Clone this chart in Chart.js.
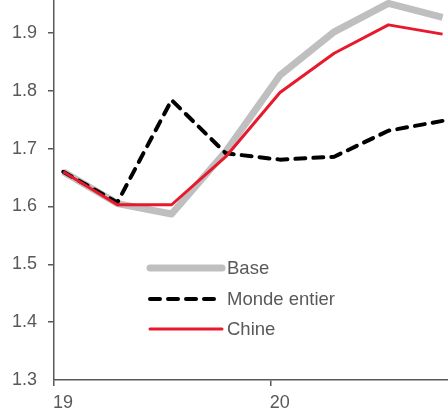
<!DOCTYPE html>
<html>
<head>
<meta charset="utf-8">
<script src="https://cdn.jsdelivr.net/npm/chart.js@4/dist/chart.umd.min.js"></script>
<style>
    body { margin: 0; background: #fff; }
</style>
</head>
<body>
<canvas id="chart" width="448" height="409"></canvas>
<script>
// quarters 2019 T1 .. 2020 T4, placed inside each year (0 = start of 19)
const quarterPos = [0.17, 1.17, 2.17, 3.17, 4.17, 5.17, 6.17, 7.17];
const yearTicks = [0, 4];
const yearLabels = ["19", "20"];

const base = [1.66, 1.605, 1.587, 1.695, 1.827, 1.902, 1.951, 1.927];
const monde = [1.66, 1.607, 1.784, 1.692, 1.681, 1.686, 1.731, 1.748];
const chine = [1.66, 1.603, 1.603, 1.686, 1.797, 1.865, 1.914, 1.898];

const axisColor = "#595959";
const family = "'Liberation Sans', Arial, sans-serif";
const font = { family: family, size: 18 };

const toPoints = (vals) => vals.map((v, i) => ({ x: quarterPos[i], y: v }));

// simple legend drawn inside the plot area
const innerLegend = {
    id: "innerLegend",
    afterDraw(chart) {
        const ctx = chart.ctx;
        const x0 = 150, x1 = 222, tx = 227;
        const rows = [268, 299, 329];
        ctx.save();
        chart.data.datasets.forEach((ds, i) => {
            const y = rows[i];
            ctx.beginPath();
            ctx.strokeStyle = ds.borderColor;
            ctx.lineWidth = ds.borderWidth;
            ctx.lineCap = "round";
            ctx.setLineDash(ds.borderDash || []);
            ctx.moveTo(x0, y);
            ctx.lineTo(x1, y);
            ctx.stroke();
            ctx.setLineDash([]);
            ctx.fillStyle = axisColor;
            ctx.font = "18.5px " + family;
            ctx.textBaseline = "middle";
            ctx.fillText(ds.label, tx, y + 1);
        });
        ctx.restore();
    }
};

new Chart(document.getElementById("chart"), {
    type: "line",
    data: {
        datasets: [
            {
                label: "Base",
                data: toPoints(base),
                borderColor: "#bfbfbf",
                borderWidth: 7,
                order: 3,
            },
            {
                label: "Monde entier",
                data: toPoints(monde),
                borderColor: "#000000",
                borderWidth: 4,
                borderDash: [10, 8],
                borderCapStyle: "round",
                order: 2,
            },
            {
                label: "Chine",
                data: toPoints(chine),
                borderColor: "#e8192c",
                borderWidth: 3,
                order: 1,
            },
        ],
    },
    options: {
        responsive: false,
        animation: false,
        layout: { padding: 0 },
        elements: {
            point: { radius: 0 },
            line: { tension: 0, borderJoinStyle: "round" },
        },
        plugins: {
            legend: { display: false },
            tooltip: { enabled: false },
        },
        scales: {
            x: {
                type: "linear",
                min: 0,
                max: 7.27,
                afterFit: (s) => {
                    s.height = 29;
                    s.paddingLeft = 0;
                    s.paddingRight = 0;
                },
                afterBuildTicks: (s) => { s.ticks = yearTicks.map((v) => ({ value: v })); },
                border: { color: axisColor, width: 1.5 },
                grid: { drawOnChartArea: false, tickLength: 6, color: axisColor, lineWidth: 1.5 },
                ticks: {
                    color: axisColor,
                    font: font,
                    padding: 6,
                    maxRotation: 0,
                    labelOffset: 9,
                    callback: (v) => yearLabels[yearTicks.indexOf(v)],
                },
            },
            y: {
                min: 1.3,
                max: 1.957,
                afterFit: (s) => {
                    s.width = 54;
                    s.paddingTop = 0;
                    s.paddingBottom = 0;
                },
                border: { color: axisColor, width: 1.5 },
                grid: {
                    drawOnChartArea: false,
                    tickLength: 6,
                    lineWidth: 1.5,
                    tickColor: (c) => (c.index === 0 ? "rgba(0,0,0,0)" : axisColor),
                },
                ticks: {
                    stepSize: 0.1,
                    includeBounds: false,
                    color: axisColor,
                    font: font,
                    padding: 11,
                    callback: (v) => v.toFixed(1),
                },
            },
        },
    },
    plugins: [innerLegend],
});
</script>
</body>
</html>
